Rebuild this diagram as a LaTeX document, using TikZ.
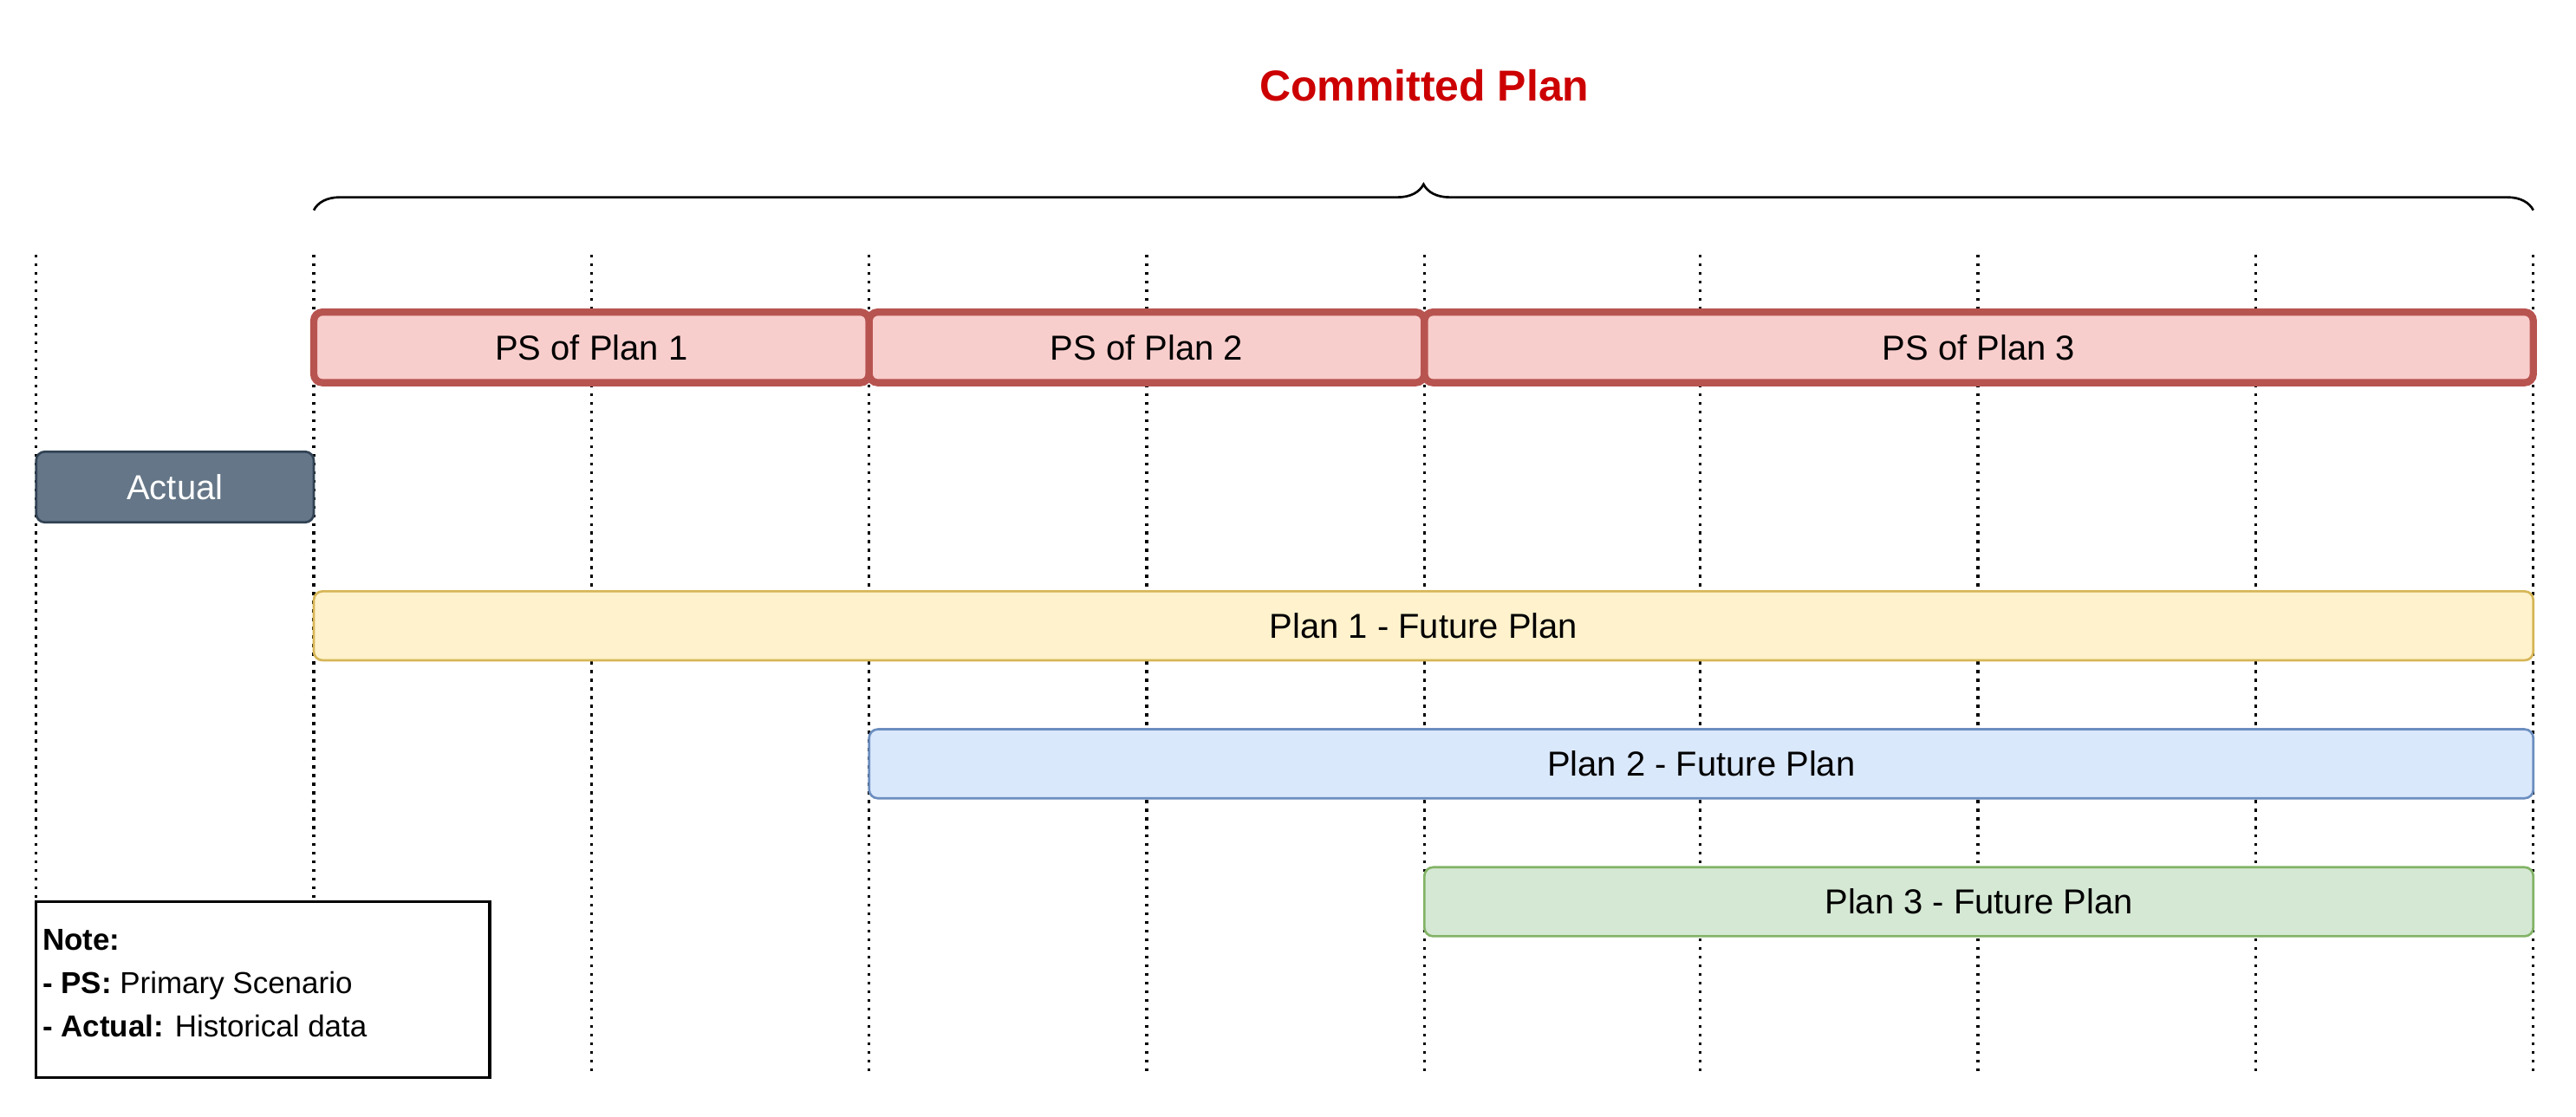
\documentclass[tikz,border=0pt]{standalone}
\usepackage{fontspec}
\setmainfont{Liberation Sans}
\usetikzlibrary{decorations.pathreplacing}

\definecolor{psfill}{HTML}{F8CECC}
\definecolor{psdraw}{HTML}{B85450}
\definecolor{actfill}{HTML}{647687}
\definecolor{actdraw}{HTML}{314354}
\definecolor{yfill}{HTML}{FFF2CC}
\definecolor{ydraw}{HTML}{D6B656}
\definecolor{bfill}{HTML}{DAE8FC}
\definecolor{bdraw}{HTML}{6C8EBF}
\definecolor{gfill}{HTML}{D5E8D4}
\definecolor{gdraw}{HTML}{82B366}
\definecolor{titlered}{HTML}{CC0000}

\tikzset{
	bar/.style = {rounded corners = 3pt, font = \fontsize{12}{14}\selectfont},
	ps/.style = {bar, fill = psfill, draw = psdraw, line width = 2.5pt},
}

\begin{document}
\begin{tikzpicture}[x = 0.02cm, y = -0.02cm]
		\useasboundingbox (0,0) rectangle (1568,680);
		
		%title and brace
		\node (title) at (867,52) {\fontsize{15}{18}\selectfont\bfseries\color{titlered}Committed Plan};
		\coordinate (bL) at (191,128);
		\coordinate (bR) at (1542,128);
		\draw [decorate, decoration = {brace, amplitude = 9pt}, line width = 0.8pt] (bL) -- (bR);
		
		%dotted time grid
		\foreach \x in {22,191,360,529,698,867,1035,1204,1373,1542}
			\draw [dotted, line width = 1pt] (\x,155) -- (\x,655);
		
		%primary scenarios
		\draw [ps] (191,190) rectangle (529,233) node [pos = 0.5] (ps1) {PS of Plan 1};
		\draw [ps] (529,190) rectangle (867,233) node [pos = 0.5] (ps2) {PS of Plan 2};
		\draw [ps] (867,190) rectangle (1542,233) node [pos = 0.5] (ps3) {PS of Plan 3};
		
		%actual
		\draw [bar, fill = actfill, draw = actdraw, line width = 0.8pt] (22,275) rectangle (191,318) node [pos = 0.5, text = white] (act) {Actual};
		
		%future plans
		\draw [bar, fill = yfill, draw = ydraw, line width = 0.8pt] (191,360) rectangle (1542,402) node [pos = 0.5] (p1) {Plan 1 - Future Plan};
		\draw [bar, fill = bfill, draw = bdraw, line width = 0.8pt] (529,444) rectangle (1542,486) node [pos = 0.5] (p2) {Plan 2 - Future Plan};
		\draw [bar, fill = gfill, draw = gdraw, line width = 0.8pt] (867,528) rectangle (1542,570) node [pos = 0.5] (p3) {Plan 3 - Future Plan};
		
		%note
		\draw [fill = white, line width = 1pt] (22,549) rectangle (298,656);
		\node [anchor = north west, align = left, inner sep = 2pt, font = \fontsize{10.5}{15}\selectfont] (note) at (22,562)
			{\textbf{Note:}\\\textbf{- PS:} Primary Scenario\\\textbf{- Actual:} Historical data};
	\end{tikzpicture}
\end{document}
